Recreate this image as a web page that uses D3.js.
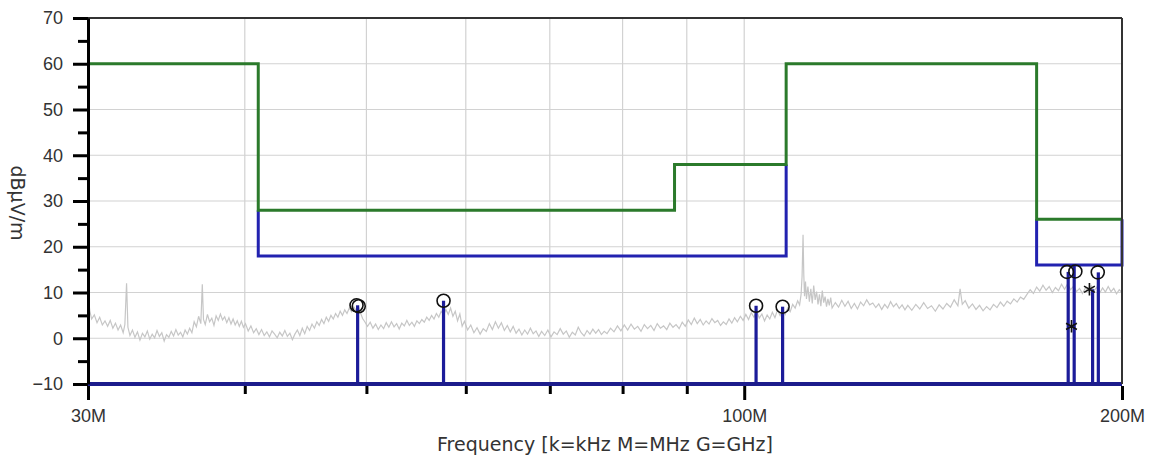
<!DOCTYPE html>
<html>
<head>
<meta charset="utf-8">
<script src="https://cdn.jsdelivr.net/npm/d3@7"></script>
<style>
  body { margin: 0; background: #fff; }
  svg { display: block; font-family: "DejaVu Sans", Verdana, sans-serif; }
  .tick text { font-size: 18px; fill: #333; }
</style>
</head>
<body>
<svg id="drawing_region"></svg>
<script>
// limit lines (MHz band edges, dBuV/m)
const qpEdges = [30, 41, 88, 108, 171, 200];
const qpLevels = [60, 28, 38, 60, 26];
const avgBands = [[41, 108], [171, 200]];
const avgLevels = [18, 16];

// final measurements
const stemFreqs = [49.2, 57.6, 102.2, 107.3, 181.2, 183.2, 189.5, 191.5];
const stemValues = [7.2, 8.2, 7.1, 6.9, 14.5, 16.2, 10.7, 14.4];
const qpFreqs = [49.1, 49.3, 57.6, 102.2, 107.3, 180.8, 183.6, 191.3];
const qpValues = [7.2, 7.0, 8.2, 7.1, 6.9, 14.5, 14.6, 14.4];
const avgFreqs = [182.3, 188.4];
const avgValues = [2.6, 10.7];

const yTicks = [-10, 0, 10, 20, 30, 40, 50, 60, 70];
const yMinorTicks = [-5, 5, 15, 25, 35, 45, 55, 65];
const xMajorTicks = [30, 100, 200];
const xMinorTicks = [40, 50, 60, 70, 80, 90];
const xGrid = [40, 50, 60, 70, 80, 90, 100];

// peak scan [MHz, dBuV/m]
const scan = [
  [30.0,9.5],[30.1,6.0],[30.2,4.2],[30.35,5.1],[30.5,3.4],[30.65,4.6],[30.8,2.9],[30.95,3.8],[31.1,2.6],[31.25,3.9],
  [31.4,2.2],[31.55,3.3],[31.7,1.8],[31.85,2.9],[32.0,1.2],[32.1,3.0],[32.2,12.0],[32.28,2.4],[32.4,0.6],[32.55,1.8],
  [32.7,0.2],[32.85,1.4],[33.0,-0.4],[33.15,1.1],[33.3,0.3],[33.45,1.6],[33.6,-0.2],[33.75,0.9],[33.9,0.1],[34.05,1.7],
  [34.2,0.4],[34.35,1.2],[34.5,-0.6],[34.65,0.8],[34.8,0.2],[34.95,1.5],[35.1,0.5],[35.25,1.9],[35.4,0.7],[35.55,1.3],
  [35.7,0.3],[35.85,1.8],[36.0,0.9],[36.15,2.2],[36.3,1.2],[36.45,3.6],[36.6,2.5],[36.75,4.8],[36.9,3.2],[37.0,11.8],
  [37.08,4.1],[37.2,3.0],[37.35,5.2],[37.5,3.6],[37.65,4.4],[37.8,2.8],[37.95,4.9],[38.1,3.9],[38.25,5.3],[38.4,4.0],
  [38.55,4.7],[38.7,3.4],[38.85,4.5],[39.0,3.1],[39.15,4.2],[39.3,2.9],[39.45,3.8],[39.6,2.6],[39.75,3.7],[39.9,2.4],
  [40.05,3.2],[40.25,1.6],[40.45,2.7],[40.65,1.2],[40.85,2.1],[41.05,0.8],[41.25,1.9],[41.45,0.6],[41.65,1.4],[41.85,0.3],
  [42.05,1.6],[42.25,0.9],[42.45,0.1],[42.65,1.3],[42.85,0.5],[43.05,1.7],[43.25,0.4],[43.45,1.1],[43.65,-0.3],[43.85,0.9],
  [44.05,1.8],[44.25,0.6],[44.45,2.2],[44.65,1.0],[44.85,2.6],[45.05,1.7],[45.25,3.1],[45.45,2.2],[45.65,3.6],[45.85,2.8],
  [46.05,4.1],[46.25,3.2],[46.45,4.6],[46.65,3.7],[46.85,5.0],[47.05,4.2],[47.25,5.4],[47.45,4.6],[47.65,5.9],[47.85,5.0],
  [48.05,6.2],[48.25,5.4],[48.45,6.6],[48.65,5.8],[48.85,6.9],[49.05,6.1],[49.25,7.0],[49.45,5.6],[49.65,4.3],[49.85,3.6],
  [50.1,2.6],[50.35,3.5],[50.6,2.2],[50.85,3.1],[51.1,1.9],[51.35,2.9],[51.6,2.1],[51.85,3.4],[52.1,2.4],[52.35,3.6],
  [52.6,2.5],[52.85,3.2],[53.1,2.0],[53.35,3.3],[53.6,2.7],[53.85,3.9],[54.1,2.8],[54.35,3.5],[54.6,2.6],[54.85,3.8],
  [55.1,3.2],[55.35,4.1],[55.6,3.5],[55.85,4.6],[56.1,3.9],[56.35,5.0],[56.6,4.2],[56.85,5.4],[57.1,4.6],[57.35,5.9],
  [57.6,5.1],[57.85,6.3],[58.1,5.2],[58.35,6.6],[58.6,4.8],[58.85,5.9],[59.1,3.8],[59.35,5.3],[59.6,2.6],[59.85,3.7],
  [60.2,1.8],[60.55,2.9],[60.9,1.2],[61.25,2.3],[61.6,0.9],[61.95,2.1],[62.3,1.5],[62.65,3.2],[63.0,1.9],[63.35,3.6],
  [63.7,2.2],[64.05,3.4],[64.4,1.7],[64.75,2.8],[65.1,1.4],[65.45,2.6],[65.8,1.1],[66.15,2.0],[66.5,0.7],[66.85,1.8],
  [67.2,0.9],[67.55,2.2],[67.9,1.0],[68.25,1.6],[68.6,0.4],[68.95,1.5],[69.35,0.6],[69.75,1.8],[70.15,0.3],[70.55,1.4],
  [70.95,0.8],[71.35,2.1],[71.75,0.9],[72.15,1.6],[72.55,0.2],[72.95,1.3],[73.35,0.7],[73.75,2.4],[74.15,1.2],[74.55,0.5],
  [74.95,1.7],[75.35,0.9],[75.75,2.0],[76.15,1.1],[76.55,1.9],[76.95,0.8],[77.35,1.5],[77.75,1.0],[78.25,2.2],[78.75,1.4],
  [79.25,2.7],[79.75,1.6],[80.25,2.9],[80.75,1.8],[81.25,3.1],[81.75,2.0],[82.25,2.6],[82.75,1.5],[83.25,3.0],[83.75,2.1],
  [84.25,2.8],[84.75,1.7],[85.25,3.2],[85.75,2.2],[86.25,2.7],[86.75,1.9],[87.25,3.3],[87.75,2.4],[88.25,3.0],[88.75,2.1],
  [89.25,3.5],[89.75,2.6],[90.25,4.0],[90.75,3.0],[91.25,4.4],[91.75,3.2],[92.25,4.1],[92.75,2.9],[93.25,3.8],[93.75,3.1],
  [94.25,4.3],[94.75,3.4],[95.25,3.9],[95.75,2.8],[96.25,3.6],[96.75,3.0],[97.25,4.2],[97.75,3.3],[98.25,4.5],[98.75,3.6],
  [99.3,4.8],[99.8,3.9],[100.3,5.2],[100.8,4.1],[101.3,5.6],[101.8,4.6],[102.3,6.0],[102.8,4.4],[103.3,5.3],[103.8,3.8],
  [104.3,5.1],[104.8,4.2],[105.3,5.7],[105.8,4.5],[106.3,6.2],[106.8,5.0],[107.3,6.4],[107.8,5.2],[108.3,6.6],[108.8,5.8],
  [109.3,7.4],[109.8,6.6],[110.3,8.2],[110.7,7.3],[111.0,9.6],[111.2,13.5],[111.4,22.6],[111.55,14.0],[111.7,9.2],[111.9,12.4],
  [112.1,8.6],[112.4,11.3],[112.7,8.0],[113.0,10.8],[113.3,7.6],[113.6,11.5],[113.9,8.4],[114.2,10.2],[114.5,7.4],[114.8,9.6],
  [115.1,7.0],[115.4,10.4],[115.7,7.8],[116.0,9.1],[116.3,6.9],[116.6,8.6],[116.9,7.2],[117.2,8.9],[117.5,6.6],[118.2,7.8],
  [118.9,6.8],[119.6,8.3],[120.3,7.0],[121.0,8.1],[121.7,6.5],[122.4,7.6],[123.1,6.4],[123.8,7.9],[124.5,7.1],[125.2,8.4],
  [125.9,7.3],[126.6,7.7],[127.3,6.7],[128.0,7.5],[128.7,6.3],[129.4,7.4],[130.1,6.6],[130.8,8.0],[131.5,6.9],[132.2,7.6],
  [132.9,6.5],[133.6,7.3],[134.3,6.2],[135.0,7.2],[136.0,6.1],[137.0,7.4],[138.0,6.4],[139.0,7.8],[140.0,6.5],[141.0,7.1],
  [142.0,5.9],[143.0,7.3],[144.0,6.4],[145.0,7.6],[146.0,6.8],[147.0,8.4],[148.0,7.1],[148.6,10.8],[149.2,7.4],[150.0,8.2],
  [151.0,6.6],[152.0,7.5],[153.0,6.3],[154.0,7.2],[155.0,6.0],[156.0,6.9],[157.0,6.2],[158.0,7.4],[159.0,6.7],[160.0,7.9],
  [161.0,7.0],[162.0,8.1],[163.0,7.5],[164.0,8.6],[165.0,7.9],[166.0,9.0],[167.0,8.5],[168.0,9.6],[169.0,10.6],[170.0,9.8],
  [171.0,11.2],[172.0,10.3],[173.0,11.6],[174.0,10.5],[175.0,11.3],[176.0,10.0],[177.0,11.1],[178.0,10.4],[179.0,11.8],[180.0,10.7],
  [181.0,11.9],[182.0,10.6],[183.0,11.4],[184.0,10.2],[185.0,10.9],[186.0,9.8],[187.0,11.0],[188.0,10.3],[189.0,11.5],[190.0,10.4],
  [191.0,11.2],[192.0,9.9],[193.0,11.0],[194.0,10.1],[195.0,11.3],[196.0,10.2],[197.0,10.9],[198.0,9.7],[199.0,10.6],[200.0,10.0]
];

const width = 1156, height = 461;
const margin = { left: 88, right: 34, top: 18, bottom: 77 };
const inner_w = width - margin.left - margin.right;
const inner_h = height - margin.top - margin.bottom;

const svg = d3.select('#drawing_region')
    .attr('width', width)
    .attr('height', height);

const xscale = d3.scaleLog().domain([30, 200]).range([margin.left, margin.left + inner_w]);
const yscale = d3.scaleLinear().domain([-10, 70]).range([margin.top + inner_h, margin.top]);

// grid
svg.append('g').selectAll('line').data(yTicks.filter(d => d > -10 && d < 70)).join('line')
    .attr('x1', margin.left).attr('x2', margin.left + inner_w)
    .attr('y1', d => yscale(d)).attr('y2', d => yscale(d))
    .attr('stroke', '#d2d2d2').attr('stroke-width', 1.2);
svg.append('g').selectAll('line').data(xGrid).join('line')
    .attr('x1', d => xscale(d)).attr('x2', d => xscale(d))
    .attr('y1', margin.top).attr('y2', margin.top + inner_h)
    .attr('stroke', '#d2d2d2').attr('stroke-width', 1.2);

// scan trace
const line = d3.line().x(d => xscale(d[0])).y(d => yscale(d[1]));
svg.append('path').datum(scan)
    .attr('d', line)
    .attr('fill', 'none').attr('stroke', '#c6c6c6').attr('stroke-width', 1.2);

// average limit (blue)
const qpAt = (f, after) => {
    let i = d3.bisectRight(qpEdges, f) - 1;
    if (!after) i = d3.bisectLeft(qpEdges, f) - 1;
    i = Math.max(0, Math.min(qpLevels.length - 1, i));
    return qpLevels[i];
};
avgBands.forEach((b, i) => {
    const pts = [[b[0], qpAt(b[0], true)], [b[0], avgLevels[i]], [b[1], avgLevels[i]], [b[1], qpAt(b[1], false)]];
    svg.append('path').datum(pts)
        .attr('d', line)
        .attr('fill', 'none').attr('stroke', '#2222b0').attr('stroke-width', 3);
});

// quasi-peak limit (green)
const qpPts = [];
qpLevels.forEach((v, i) => { qpPts.push([qpEdges[i], v]); qpPts.push([qpEdges[i + 1], v]); });
svg.append('path').datum(qpPts)
    .attr('d', line)
    .attr('fill', 'none').attr('stroke', '#2b7a2b').attr('stroke-width', 3);

// stems
svg.append('g').selectAll('line').data(stemFreqs).join('line')
    .attr('x1', d => xscale(d)).attr('x2', d => xscale(d))
    .attr('y1', yscale(-10)).attr('y2', (d, i) => yscale(stemValues[i]))
    .attr('stroke', '#1c1c9a').attr('stroke-width', 3.2);

// baseline
svg.append('line')
    .attr('x1', margin.left).attr('x2', margin.left + inner_w)
    .attr('y1', yscale(-10)).attr('y2', yscale(-10))
    .attr('stroke', '#1c1c8c').attr('stroke-width', 4);

// markers
svg.append('g').selectAll('circle').data(qpFreqs).join('circle')
    .attr('cx', d => xscale(d)).attr('cy', (d, i) => yscale(qpValues[i]))
    .attr('r', 6.5)
    .attr('fill', 'none').attr('stroke', '#111').attr('stroke-width', 1.6);
svg.append('g').selectAll('path').data(avgFreqs).join('path')
    .attr('transform', (d, i) => `translate(${xscale(d)},${yscale(avgValues[i])})`)
    .attr('d', d3.symbol(d3.symbolAsterisk, 110))
    .attr('fill', 'none').attr('stroke', '#111').attr('stroke-width', 1.6);

// frame
svg.append('line')
    .attr('x1', margin.left).attr('x2', margin.left + inner_w)
    .attr('y1', margin.top).attr('y2', margin.top)
    .attr('stroke', '#333').attr('stroke-width', 2);
svg.append('line')
    .attr('x1', margin.left + inner_w).attr('x2', margin.left + inner_w)
    .attr('y1', margin.top).attr('y2', margin.top + inner_h)
    .attr('stroke', '#333').attr('stroke-width', 2);

// y axis
const yAxis = svg.append('g')
    .attr('transform', `translate(${margin.left},0)`)
    .call(d3.axisLeft(yscale).tickValues(yTicks).tickSize(15).tickPadding(10).tickSizeOuter(0));
svg.append('g')
    .attr('transform', `translate(${margin.left},0)`)
    .call(d3.axisLeft(yscale).tickValues(yMinorTicks).tickSize(10).tickFormat('').tickSizeOuter(0))
    .select('.domain').remove();
yAxis.select('.domain').attr('stroke', '#000').attr('stroke-width', 3);

// x axis
const xbase = yscale(-10) + 2;
const xMajor = svg.append('g')
    .attr('transform', `translate(0,${xbase})`)
    .call(d3.axisBottom(xscale).tickValues(xMajorTicks).tickSize(14).tickPadding(9)
        .tickFormat(d => d + 'M'));
xMajor.select('.domain').remove();
const xMinor = svg.append('g')
    .attr('transform', `translate(0,${xbase})`)
    .call(d3.axisBottom(xscale).tickValues(xMinorTicks).tickSize(8).tickFormat(''));
xMinor.select('.domain').remove();
svg.selectAll('.tick line').attr('stroke', '#000').attr('stroke-width', 3);

// titles
svg.append('text')
    .attr('x', margin.left + inner_w / 2).attr('y', 451)
    .attr('text-anchor', 'middle')
    .attr('font-size', 19).attr('fill', '#333')
    .text('Frequency [k=kHz M=MHz G=GHz]');
svg.append('text')
    .attr('transform', `translate(11,203) rotate(90)`)
    .attr('text-anchor', 'middle')
    .attr('font-size', 19).attr('fill', '#333')
    .text('dBµV/m');
</script>
</body>
</html>
